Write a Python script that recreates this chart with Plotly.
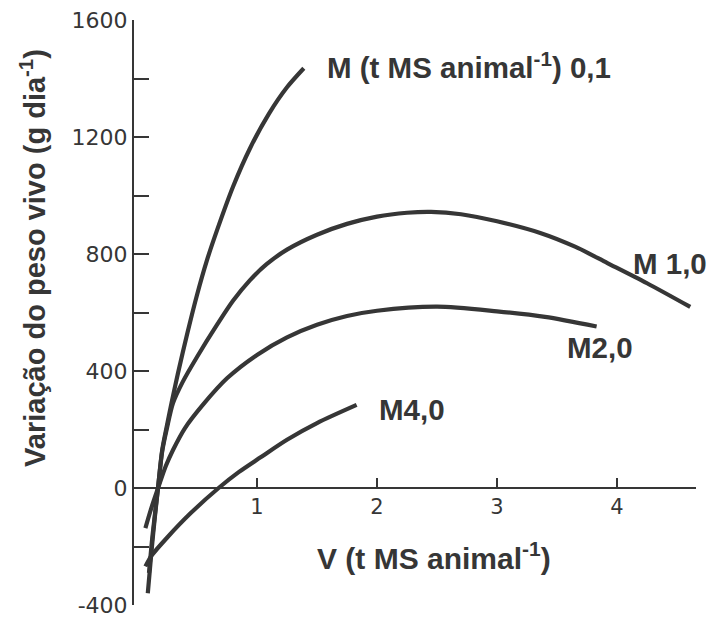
import plotly.graph_objects as go

# ---- data ----
m01_x = [0.09, 0.12, 0.15, 0.175, 0.21, 0.25, 0.29, 0.34, 0.42, 0.50, 0.58, 0.67, 0.80, 0.94, 1.10, 1.25, 1.39]
m01_y = [-360, -220, -95, 0, 130, 215, 295, 390, 530, 660, 775, 885, 1030, 1160, 1280, 1370, 1435]

m10_x = [0.10, 0.13, 0.175, 0.21, 0.25, 0.30, 0.38, 0.50, 0.67, 0.80, 0.94, 1.08, 1.25, 1.50, 1.75, 2.00, 2.25, 2.45, 2.70, 3.00, 3.36, 3.65, 3.92, 4.25, 4.61]
m10_y = [-290, -160, 0, 125, 205, 290, 362, 448, 560, 640, 710, 765, 815, 866, 903, 928, 941, 944, 936, 912, 872, 825, 769, 700, 619]

m20_x = [0.07, 0.12, 0.18, 0.24, 0.30, 0.40, 0.55, 0.75, 1.00, 1.25, 1.50, 1.75, 2.00, 2.50, 3.00, 3.40, 3.83]
m20_y = [-137, -68, 5, 75, 130, 205, 285, 375, 455, 515, 558, 588, 606, 620, 604, 585, 552]

m40_x = [0.07, 0.12, 0.25, 0.45, 0.68, 0.85, 1.03, 1.25, 1.50, 1.83]
m40_y = [-268, -232, -170, -85, 0, 55, 105, 165, 222, 284]

series_names = ["M (t MS animal<sup>-1</sup>) 0,1", "M 1,0", "M2,0", "M4,0"]

x_tick_vals = [1, 2, 3, 4]
x_tick_text = ["1", "2", "3", "4"]
y_tick_vals = [-400, 0, 400, 800, 1200, 1600]
y_tick_text = ["-400", "0", "400", "800", "1200", "1600"]
y_minor_vals = [-200, 200, 600, 1000, 1400]

x_title = "V (t MS animal<sup>-1</sup>)"
y_title = "Variação do peso vivo (g dia<sup>-1</sup>)"

INK = "#363636"
FONT = "Liberation Sans, Arial, sans-serif"
TICKFONT = "DejaVu Sans, Liberation Sans, sans-serif"

fig = go.Figure()
for xs, ys in [(m01_x, m01_y), (m10_x, m10_y), (m20_x, m20_y), (m40_x, m40_y)]:
    fig.add_trace(go.Scatter(
        x=xs, y=ys, mode="lines",
        line=dict(color=INK, width=4.2, shape="spline", smoothing=0.8),
        showlegend=False, hoverinfo="skip",
    ))

label_pos = [
    dict(x=1.567, y=1446, xanchor="left"),
    dict(x=4.442, y=769, xanchor="center"),
    dict(x=3.858, y=482, xanchor="center"),
    dict(x=2.292, y=270, xanchor="center"),
]
for name, pos in zip(series_names, label_pos):
    fig.add_annotation(text="<b>" + name + "</b>", xref="x", yref="y", showarrow=False,
                       yanchor="middle", font=dict(size=29.5, color=INK, family=FONT), **pos)

fig.add_annotation(text="<b>" + x_title + "</b>", xref="paper", yref="paper", x=0.534, y=0.084,
                   showarrow=False, xanchor="center", yanchor="middle",
                   font=dict(size=30, color=INK, family=FONT))
fig.add_annotation(text="<b>" + y_title + "</b>", xref="paper", yref="paper", x=-0.18, y=0.593,
                   showarrow=False, textangle=-90, xanchor="center", yanchor="middle",
                   font=dict(size=29, color=INK, family=FONT))

fig.update_layout(
    width=711, height=621, autosize=False,
    margin=dict(l=134, r=15, t=20, b=16, autoexpand=False),
    paper_bgcolor="white", plot_bgcolor="white",
    xaxis=dict(
        range=[-0.025, 4.658], anchor="free", position=0.2, side="bottom",
        automargin=False,
        showline=True, linecolor=INK, linewidth=2,
        tickmode="array", tickvals=x_tick_vals, ticktext=x_tick_text,
        ticks="inside", ticklen=9, tickwidth=2, tickcolor=INK,
        tickfont=dict(size=21, color=INK, family=TICKFONT),
        showgrid=False, zeroline=False,
    ),
    yaxis=dict(
        range=[-400, 1600], automargin=False,
        showline=True, linecolor=INK, linewidth=2,
        tickmode="array", tickvals=y_tick_vals, ticktext=y_tick_text,
        ticks="inside", ticklen=15, tickwidth=2, tickcolor=INK,
        tickfont=dict(size=22, color=INK, family=TICKFONT),
        minor=dict(tickmode="array", tickvals=y_minor_vals, ticks="inside",
                   ticklen=15, tickwidth=2, tickcolor=INK, showgrid=False),
        showgrid=False, zeroline=False,
    ),
)

fig.write_html(
    "out.html",
    config={"displayModeBar": False, "staticPlot": True},
    post_script=(
        "var gd=document.getElementById('{plot_id}');"
        "gd.style.position='fixed';gd.style.top='0px';gd.style.left='0px';"
        "document.body.style.margin='0px';"
    ),
)
